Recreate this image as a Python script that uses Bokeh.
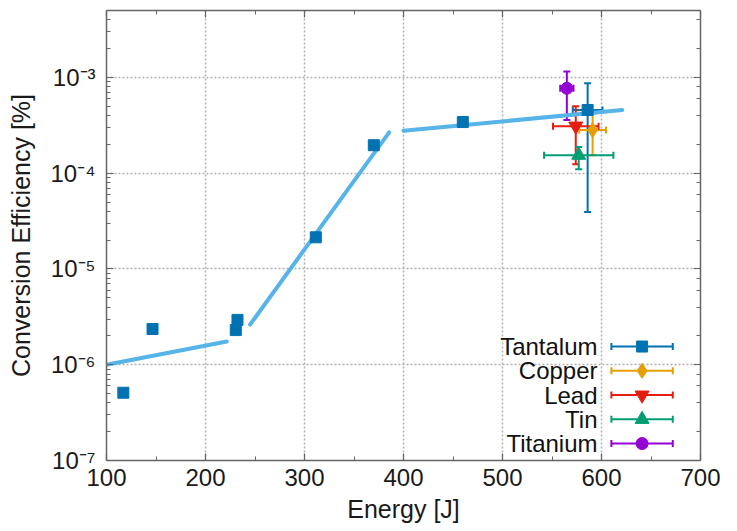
from bokeh.plotting import figure
from bokeh.models import (ColumnDataSource, Whisker, TeeHead, LinearAxis, LogAxis,
                          CustomJSTickFormatter, FixedTicker)
from bokeh.core.properties import value
from bokeh.embed import file_html
from bokeh.resources import INLINE

# ---------------- data ----------------
# Tantalum measurements without error bars
ta_x = [117, 146.5, 230.6, 232.3, 311.4, 370, 459.9]
ta_y = [5.1e-7, 2.36e-6, 2.3e-6, 2.94e-6, 2.14e-5, 1.96e-4, 3.42e-4]

# fitted trend segments
fit1_x = [100, 221.5]
fit1_y = [1.0e-6, 1.75e-6]
fit2_x = [245, 385.5]
fit2_y = [2.62e-6, 2.67e-4]
fit3_x = [400, 621]
fit3_y = [2.77e-4, 4.57e-4]

# materials with error bars
materials = ["Tantalum", "Copper", "Lead", "Tin", "Titanium"]
mat_x = [586, 591, 574, 577, 565]
mat_xerr = [15, 13.5, 23, 35, 6.7]
mat_y = [4.57e-4, 2.82e-4, 3.1e-4, 1.54e-4, 7.7e-4]
mat_y_lo = [3.94e-5, 1.54e-4, 1.24e-4, 1.1e-4, 3.59e-4]
mat_y_hi = [8.7e-4, 4.2e-4, 5.0e-4, 1.88e-4, 1.15e-3]

x_ticks = [100, 200, 300, 400, 500, 600, 700]
x_minor = [150, 250, 350, 450, 550, 650]

# ---------------- styles ----------------
colors = ["#0072B2", "#E69F00", "#E51E10", "#009E73", "#9400D3"]
markers = ["square", "diamond", "inverted_triangle", "triangle", "circle"]
msizes = [11, 15, 14, 14, 12]
fit_color = "#56B4E9"
FONT = "Liberation Sans"
frame_col = "#666666"
text_col = "#1a1a1a"

p = figure(width=737, height=531, output_backend="svg", toolbar_location=None,
           x_range=(100, 700), y_range=(1e-7, 5e-3), y_axis_type="log",
           min_border_left=106, min_border_right=37, min_border_top=10,
           min_border_bottom=71)
p.outline_line_color = None
p.background_fill_color = "white"
p.border_fill_color = "white"

sup_js = """
const sup = {'-':'\u207b','0':'\u2070','1':'\u00b9','2':'\u00b2','3':'\u00b3','4':'\u2074',
             '5':'\u2075','6':'\u2076','7':'\u2077','8':'\u2078','9':'\u2079'};
const e = Math.round(Math.log10(tick));
return '10' + String(e).split('').map(c => sup[c]).join('');
"""

def style_axis(ax):
    ax.axis_line_color = frame_col
    ax.axis_line_width = 1.5
    ax.major_tick_line_color = frame_col
    ax.minor_tick_line_color = frame_col
    ax.major_tick_line_width = 1.2
    ax.minor_tick_line_width = 1
    ax.major_tick_in = 7
    ax.major_tick_out = 0
    ax.minor_tick_in = 4
    ax.minor_tick_out = 0
    ax.major_label_text_font = FONT
    ax.major_label_text_font_size = "24px"
    ax.major_label_text_color = text_col
    ax.axis_label_text_font = FONT
    ax.axis_label_text_font_size = "25px"
    ax.axis_label_text_font_style = "normal"
    ax.axis_label_text_color = text_col

# bottom x axis
xa = p.xaxis[0]
xa.ticker = FixedTicker(ticks=x_ticks, minor_ticks=x_minor)
xa.axis_label = "Energy [J]"
style_axis(xa)
xa.major_label_standoff = 8
xa.axis_label_standoff = 6

# left y axis
ya = p.yaxis[0]
ya.axis_label = "Conversion Efficiency [%]"
style_axis(ya)
ya.formatter = CustomJSTickFormatter(code=sup_js)
ya.major_label_standoff = 11
ya.axis_label_standoff = 12

# mirrored axes (ticks only)
top_ax = LinearAxis(ticker=FixedTicker(ticks=x_ticks, minor_ticks=x_minor))
style_axis(top_ax)
top_ax.major_label_standoff = 0
top_ax.formatter = CustomJSTickFormatter(code="return '';")
p.add_layout(top_ax, "above")
right_ax = LogAxis()
style_axis(right_ax)
right_ax.major_label_standoff = 0
right_ax.formatter = CustomJSTickFormatter(code="return '';")
p.add_layout(right_ax, "right")

# grid
p.xgrid.ticker = FixedTicker(ticks=x_ticks)
p.xgrid.grid_line_color = "#b0b0b0"
p.xgrid.grid_line_dash = "2 2"
p.xgrid.grid_line_width = 1.5
p.ygrid.grid_line_color = "#b0b0b0"
p.ygrid.grid_line_dash = "2 2"
p.ygrid.grid_line_width = 1.5
p.ygrid.minor_grid_line_color = None

# fits
for fx, fy in [(fit1_x, fit1_y), (fit2_x, fit2_y), (fit3_x, fit3_y)]:
    p.line(fx, fy, line_color=fit_color, line_width=4, line_cap="round")

# tantalum scatter
p.scatter(ta_x, ta_y, marker="square", size=msizes[0], color=colors[0])

def add_errbar(src, i, base, lo, hi, dim):
    head = dict(size=7, line_color=colors[i], line_width=2)
    p.add_layout(Whisker(source=src, base=base, lower=lo, upper=hi, dimension=dim,
                         line_color=colors[i], line_width=2,
                         upper_head=TeeHead(**head), lower_head=TeeHead(**head)))

# error-bar materials
for i, m in enumerate(materials):
    src = ColumnDataSource(dict(x=[mat_x[i]], y=[mat_y[i]],
                                xl=[mat_x[i] - mat_xerr[i]], xu=[mat_x[i] + mat_xerr[i]],
                                yl=[mat_y_lo[i]], yu=[mat_y_hi[i]]))
    add_errbar(src, i, "y", "xl", "xu", "width")
    add_errbar(src, i, "x", "yl", "yu", "height")
    p.scatter("x", "y", source=src, marker=markers[i], size=msizes[i], color=colors[i])

# legend (inside the frame, labels to the left of the samples)
LEG_TEXT_X = 596
LEG_X0, LEG_X1, LEG_XM = 610, 672, 641
LEG_LOG_TOP = -5.81
LEG_LOG_STEP = 0.2534
leg_y = [10 ** (LEG_LOG_TOP - k * LEG_LOG_STEP) for k in range(len(materials))]
p.text(x=[LEG_TEXT_X] * len(materials), y=leg_y, text=materials,
       text_align="right", text_baseline="middle",
       text_font=value(FONT), text_font_size="24px", text_color="#111111")
for i, m in enumerate(materials):
    src = ColumnDataSource(dict(y=[leg_y[i]], xl=[LEG_X0], xu=[LEG_X1], x=[LEG_XM]))
    add_errbar(src, i, "y", "xl", "xu", "width")
    p.scatter("x", "y", source=src, marker=markers[i], size=msizes[i], color=colors[i])

open("out.html", "w").write(file_html(p, INLINE))
